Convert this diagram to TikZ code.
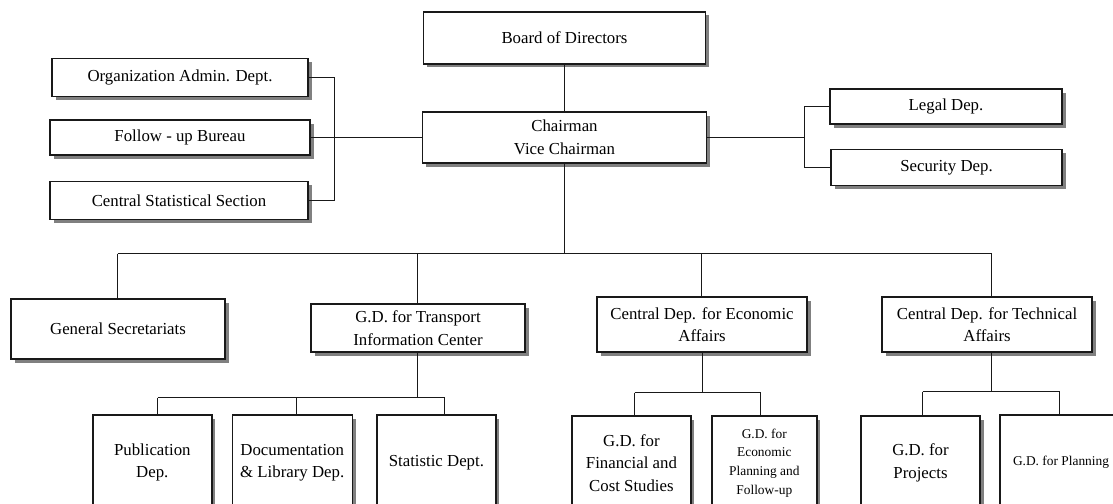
\documentclass[tikz,border=0pt]{standalone}
\usepackage{fontspec}
\setmainfont{Liberation Serif}
\usetikzlibrary{shadows}
\begin{document}
\begin{tikzpicture}[x=1pt,y=-1pt,
  box/.style={draw=black!90, line width=1.4pt, fill=white, align=center,
    inner sep=0pt, outer sep=0pt,
    font=\fontsize{16.8}{22.5}\selectfont,
    drop shadow={shadow xshift=3.5pt, shadow yshift=-3.5pt, fill=black!50, opacity=1}},
  small/.style={font=\fontsize{13.4}{18.7}\selectfont},
  link/.style={draw=black!90, line width=1.5pt}]

% page frame, content is cut at its edges
\path[use as bounding box, clip] (0,0) rectangle (1113,503);
\fill[white] (0,0) rectangle (1113,503);

% ---------- top level ----------
\node[box, minimum width=282, minimum height=52] (board) at (564.5,38) {Board of Directors};
\node[box, minimum width=284, minimum height=51] (chair) at (564.5,137.5) {Chairman\\Vice Chairman};

% left staff units
\node[box, minimum width=256, minimum height=38] (org)    at (180,77.5)  {Organization Admin. Dept.};
\node[box, minimum width=260, minimum height=35] (follow) at (180,137.5) {Follow - up Bureau};
\node[box, minimum width=258, minimum height=38] (css)    at (179,200.5) {Central Statistical Section};

% right staff units
\node[box, minimum width=232, minimum height=35] (legal) at (946,106.5) {Legal Dep.};
\node[box, minimum width=231, minimum height=36] (sec)   at (946.5,167.5) {Security Dep.};

% ---------- second level ----------
\node[box, minimum width=214, minimum height=60] (gensec) at (118,329)   {General Secretariats};
\node[box, minimum width=214, minimum height=48] (gdt)    at (418,328)   {G.D. for Transport\\Information Center};
\node[box, minimum width=210, minimum height=55] (econ)   at (702,324.5) {Central Dep. for Economic\\Affairs};
\node[box, minimum width=210, minimum height=55] (tech)   at (987,324.5) {Central Dep. for Technical\\Affairs};

% ---------- third level ----------
\node[box, minimum width=119, minimum height=95] (pub)   at (152.3,462.5) {Publication\\Dep.};
\node[box, minimum width=120, minimum height=95] (doc)   at (292.2,462.5) {Documentation\\\& Library Dep.};
\node[box, minimum width=119, minimum height=95] (stat)  at (436.4,462.5) {Statistic Dept.};
\node[box, minimum width=119, minimum height=94] (fin)   at (631.4,463)   {G.D. for\\Financial and\\Cost Studies};
\node[box, small, minimum width=105, minimum height=94] (eplan) at (764.3,463) {G.D. for\\Economic\\Planning and\\Follow-up};
\node[box, minimum width=119, minimum height=94] (proj)  at (920.5,463)   {G.D. for\\Projects};
\node[box, small, minimum width=122, minimum height=95] (plan) at (1061,462.5) {G.D. for Planning};

% ---------- junction points ----------
\coordinate (lj) at (334.5,137.5);
\coordinate (rj) at (804.5,137.5);
\coordinate (busL) at (117.5,253.5);
\coordinate (busG) at (417.5,253.5);
\coordinate (busC) at (564.5,253.5);
\coordinate (busE) at (701.5,253.5);
\coordinate (busR) at (991.5,253.5);
\coordinate (t1) at (157.5,397.5);
\coordinate (t2) at (296.5,397.5);
\coordinate (t3) at (444.5,397.5);
\coordinate (e1) at (634.5,392.5);
\coordinate (e2) at (760.5,392.5);
\coordinate (k1) at (922.5,391.5);
\coordinate (k2) at (1059.5,391.5);
\coordinate (kc) at (991.5,391.5);
\coordinate (gc) at (417.5,397.5);
\coordinate (ec) at (702.5,392.5);

% ---------- connectors ----------
\draw[link] (board.south) -- (chair.north);
\draw[link] (chair.west) -- (follow.east);
\draw[link] (org.east) -| (lj) |- (css.east);
\draw[link] (chair.east) -- (rj);
\draw[link] (legal.west) -| (rj) |- (sec.west);

\draw[link] (chair.south) -- (busC);
\draw[link] (busL) -- (busR);
\draw[link] (busL) -- (busL |- gensec.north);
\draw[link] (busG) -- (busG |- gdt.north);
\draw[link] (busE) -- (busE |- econ.north);
\draw[link] (busR) -- (busR |- tech.north);

\draw[link] (gc |- gdt.south) -- (gc);
\draw[link] (t1) -- (t3);
\draw[link] (t1) -- (t1 |- pub.north);
\draw[link] (t2) -- (t2 |- doc.north);
\draw[link] (t3) -- (t3 |- stat.north);

\draw[link] (ec |- econ.south) -- (ec);
\draw[link] (e1) -- (e2);
\draw[link] (e1) -- (e1 |- fin.north);
\draw[link] (e2) -- (e2 |- eplan.north);

\draw[link] (kc |- tech.south) -- (kc);
\draw[link] (k1) -- (k2);
\draw[link] (k1) -- (k1 |- proj.north);
\draw[link] (k2) -- (k2 |- plan.north);
\end{tikzpicture}
\end{document}
